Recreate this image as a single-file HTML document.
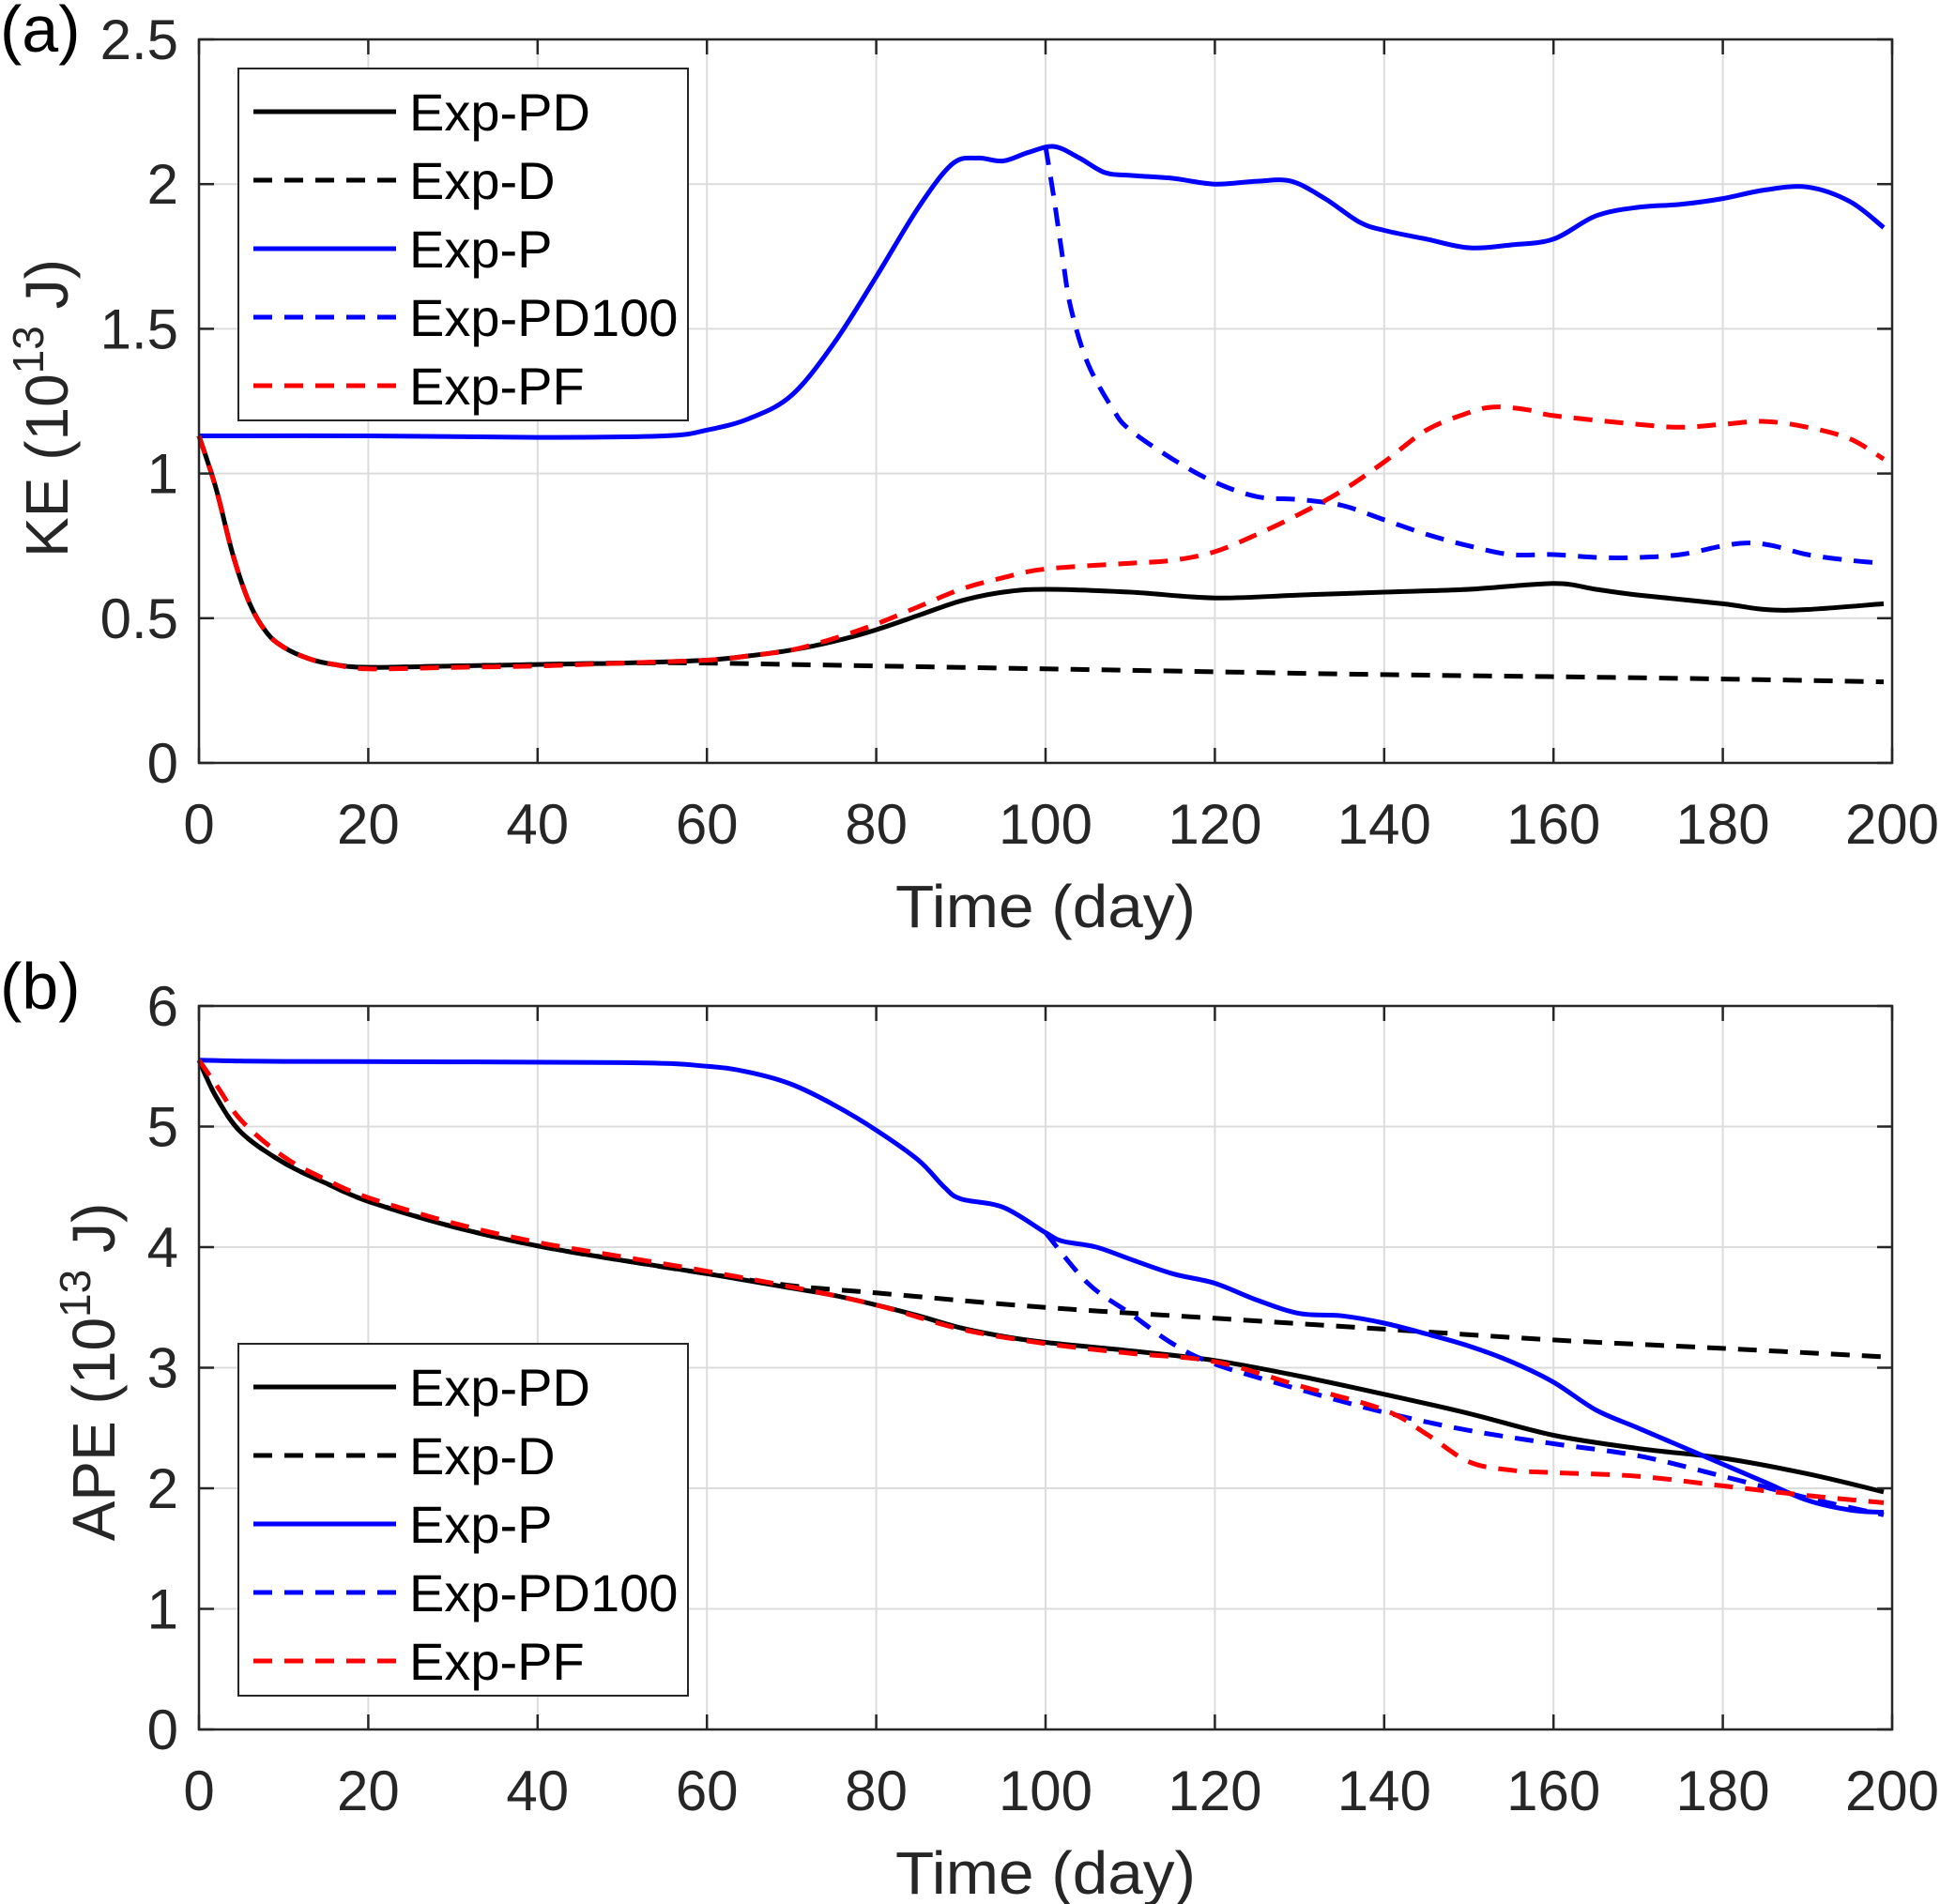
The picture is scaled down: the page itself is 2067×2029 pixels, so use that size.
<!DOCTYPE html>
<html><head><meta charset="utf-8"><style>
html,body{margin:0;padding:0;background:#fff;}
svg{display:block;font-family:"Liberation Sans",sans-serif;}
</style></head><body>
<svg id="chart" width="2067" height="2029" viewBox="0 0 2067 2029" xmlns="http://www.w3.org/2000/svg"></svg>
<script>
const xTicks=[0,20,40,60,80,100,120,140,160,180,200];
const keTicks=[0,0.5,1,1.5,2,2.5];
const keTickLabels=["0","0.5","1","1.5","2","2.5"];
const apeTicks=[0,1,2,3,4,5,6];
const apeTickLabels=["0","1","2","3","4","5","6"];
const seriesNames=["Exp-PD","Exp-D","Exp-P","Exp-PD100","Exp-PF"];
// Panel (a) KE
const keP_t=[0,20,40,55,60,65,70,75,80,85,89,92,95,98,101,104,107,110,115,120,125,129,133,137,140,145,150,155,160,165,170,175,180,185,190,195,199];
const keP_v=[1.13,1.13,1.125,1.13,1.15,1.19,1.27,1.45,1.68,1.92,2.07,2.09,2.08,2.11,2.13,2.09,2.04,2.03,2.02,2.0,2.01,2.01,1.95,1.87,1.84,1.81,1.78,1.79,1.81,1.89,1.92,1.93,1.95,1.98,1.99,1.94,1.85];
const kePD_t=[0,2,4,6,8,10,13,16,20,30,40,50,60,65,70,75,80,85,90,95,100,110,120,130,140,150,160,165,170,180,185,190,199];
const kePD_v=[1.13,0.95,0.72,0.55,0.45,0.40,0.36,0.34,0.33,0.335,0.34,0.345,0.355,0.37,0.39,0.42,0.46,0.51,0.56,0.59,0.60,0.59,0.57,0.58,0.59,0.60,0.62,0.60,0.58,0.55,0.53,0.53,0.55];
const keD_t=[0,2,4,6,8,10,13,16,20,30,40,50,60,80,100,120,140,160,180,199];
const keD_v=[1.13,0.95,0.72,0.55,0.45,0.40,0.36,0.34,0.33,0.335,0.34,0.345,0.345,0.335,0.325,0.315,0.305,0.298,0.29,0.28];
const kePF_t=[0,2,4,6,8,10,13,16,20,30,40,50,60,65,70,75,80,85,90,95,100,110,115,120,125,130,135,140,145,150,153,157,160,170,175,180,185,190,195,199];
const kePF_v=[1.13,0.95,0.72,0.55,0.45,0.40,0.36,0.34,0.325,0.33,0.335,0.345,0.355,0.37,0.39,0.43,0.48,0.54,0.60,0.64,0.67,0.69,0.70,0.73,0.79,0.86,0.94,1.04,1.15,1.21,1.23,1.22,1.20,1.17,1.16,1.17,1.18,1.16,1.12,1.05];
const kePD100_t=[100,101,102,103,105,108,110,115,120,125,130,135,140,145,150,155,160,165,170,175,180,183,186,190,195,199];
const kePD100_v=[2.13,1.95,1.75,1.57,1.38,1.22,1.15,1.05,0.97,0.92,0.91,0.89,0.84,0.79,0.75,0.72,0.72,0.71,0.71,0.72,0.75,0.76,0.75,0.72,0.70,0.69];
// Panel (b) APE
const apeP_t=[0,10,50,60,65,70,75,80,85,88,90,95,100,102,106,110,115,120,125,130,135,140,145,150,155,160,165,170,175,180,185,190,195,199];
const apeP_v=[5.55,5.54,5.53,5.50,5.45,5.35,5.18,4.97,4.72,4.50,4.40,4.33,4.12,4.05,4.0,3.90,3.78,3.70,3.56,3.45,3.43,3.37,3.28,3.18,3.05,2.88,2.65,2.50,2.35,2.20,2.05,1.90,1.82,1.80];
const apePD_t=[0,2,5,10,15,20,30,40,50,60,70,75,80,85,90,95,100,110,120,130,140,150,160,170,180,190,199];
const apePD_v=[5.55,5.25,4.95,4.70,4.53,4.38,4.17,4.01,3.89,3.78,3.66,3.60,3.52,3.43,3.33,3.26,3.21,3.14,3.06,2.93,2.78,2.62,2.44,2.33,2.25,2.12,1.97];
const apeD_t=[0,2,5,10,15,20,30,40,50,60,70,80,100,120,140,160,180,199];
const apeD_v=[5.55,5.25,4.95,4.70,4.53,4.38,4.17,4.01,3.89,3.78,3.68,3.62,3.50,3.41,3.32,3.23,3.16,3.09];
const apePF_t=[0,2,5,10,15,20,30,40,50,60,70,80,90,100,110,120,130,140,145,150,155,160,170,180,190,199];
const apePF_v=[5.55,5.35,5.05,4.75,4.56,4.41,4.20,4.04,3.92,3.80,3.67,3.52,3.32,3.20,3.12,3.05,2.85,2.65,2.45,2.22,2.15,2.13,2.10,2.02,1.94,1.88];
const apePD100_t=[100,105,110,115,120,130,140,150,160,170,180,190,199];
const apePD100_v=[4.12,3.70,3.45,3.20,3.03,2.82,2.63,2.48,2.37,2.27,2.10,1.92,1.78];

const NS="http://www.w3.org/2000/svg";
const svg=document.getElementById('chart');
function mk(tag,attrs,parent){const e=document.createElementNS(NS,tag);for(const k in attrs)e.setAttribute(k,attrs[k]);(parent||svg).appendChild(e);return e;}
const X0=212,X1=2016;
function xs(d){return X0+(d/200)*(X1-X0);}
function smoothPath(pts){
  let d="M"+pts[0][0].toFixed(1)+","+pts[0][1].toFixed(1);
  for(let i=0;i<pts.length-1;i++){
    const p0=pts[i-1]||pts[i],p1=pts[i],p2=pts[i+1],p3=pts[i+2]||p2;
    const c1x=p1[0]+(p2[0]-p0[0])/6,c1y=p1[1]+(p2[1]-p0[1])/6;
    const c2x=p2[0]-(p3[0]-p1[0])/6,c2y=p2[1]-(p3[1]-p1[1])/6;
    d+=" C"+c1x.toFixed(1)+","+c1y.toFixed(1)+" "+c2x.toFixed(1)+","+c2y.toFixed(1)+" "+p2[0].toFixed(1)+","+p2[1].toFixed(1);
  }
  return d;
}
const styles={"Exp-PD":["#000",""],"Exp-D":["#000","20 13"],"Exp-P":["#0000ff",""],"Exp-PD100":["#0000ff","20 13"],"Exp-PF":["#ff0000","20 13"]};

function panel(cfg){
  const {top,bottom,ymax,ticks,tickLabels,series,legendTop,ylabel,ylx,yly,panelLabel,plY,key}=cfg;
  const ys=v=>bottom-(v/ymax)*(bottom-top);
  const g=mk('g',{});
  
  
  xTicks.forEach(t=>{const l=mk('line',{x1:xs(t),x2:xs(t),y1:top,y2:bottom,stroke:'#dcdcdc','stroke-width':2},g);
    });
  ticks.forEach(t=>{const l=mk('line',{x1:X0,x2:X1,y1:ys(t),y2:ys(t),stroke:'#dcdcdc','stroke-width':2},g);
    });
  series.forEach(s=>{
    const pts=s.t.map((d,i)=>[xs(d),ys(s.v[i])]);
    const p=mk('path',{d:smoothPath(pts),fill:'none',stroke:styles[s.name][0],'stroke-width':5,'stroke-dasharray':styles[s.name][1],'stroke-linejoin':'round'},g);
    
    
  });
  const b=mk('rect',{x:X0,y:top,width:X1-X0,height:bottom-top,fill:'none',stroke:'#262626','stroke-width':2.5},g);
  
  xTicks.forEach((t,i)=>{
    mk('line',{x1:xs(t),x2:xs(t),y1:bottom,y2:bottom-16,stroke:'#262626','stroke-width':2.5},g);
    mk('line',{x1:xs(t),x2:xs(t),y1:top,y2:top+16,stroke:'#262626','stroke-width':2.5},g);
    const tx=mk('text',{x:xs(t),y:bottom+86,'text-anchor':'middle','font-size':60,fill:'#262626'},g);
    tx.textContent=String(t);
    
  });
  ticks.forEach((t,i)=>{
    mk('line',{x1:X0,x2:X0+16,y1:ys(t),y2:ys(t),stroke:'#262626','stroke-width':2.5},g);
    mk('line',{x1:X1,x2:X1-16,y1:ys(t),y2:ys(t),stroke:'#262626','stroke-width':2.5},g);
    const tx=mk('text',{x:190,y:ys(t)+21,'text-anchor':'end','font-size':60,fill:'#262626'},g);
    tx.textContent=tickLabels[i];
    
  });
  const xt=mk('text',{x:(X0+X1)/2,y:bottom+175,'text-anchor':'middle','font-size':64,fill:'#262626',textLength:320,lengthAdjust:'spacingAndGlyphs'},g);
  xt.textContent='Time (day)';
  
  const yt=mk('text',{x:ylx,y:yly,'text-anchor':'middle','font-size':64,fill:'#262626',transform:`rotate(-90 ${ylx} ${yly})`},g);
  yt.innerHTML=ylabel+' (10<tspan dy="-26" font-size="46">13</tspan><tspan dy="26"> J)</tspan>';
  
  const pl=mk('text',{x:0,y:plY,'font-size':70,fill:'#000'},g);
  pl.textContent=panelLabel;
  
  const lg=mk('g',{},g);
  
  mk('rect',{x:254,y:legendTop,width:479,height:375,fill:'#fff',stroke:'#262626','stroke-width':2},lg);
  seriesNames.forEach((n,i)=>{
    const y=legendTop+46+i*73;
    const l=mk('line',{x1:270,x2:422,y1:y,y2:y,stroke:styles[n][0],'stroke-width':5,'stroke-dasharray':styles[n][1]},lg);
    
    const tx=mk('text',{x:436,y:y+20,'font-size':56,fill:'#000'},lg);
    tx.textContent=n;
    
  });
}
panel({key:'ke',top:42,bottom:813,ymax:2.5,ticks:keTicks,tickLabels:keTickLabels,legendTop:73,ylabel:'KE',ylx:72,yly:435,panelLabel:'(a)',plY:55,
  series:[{name:'Exp-D',t:keD_t,v:keD_v},{name:'Exp-PD',t:kePD_t,v:kePD_v},{name:'Exp-P',t:keP_t,v:keP_v},{name:'Exp-PD100',t:kePD100_t,v:kePD100_v},{name:'Exp-PF',t:kePF_t,v:kePF_v}]});
panel({key:'ape',top:1072,bottom:1843,ymax:6,ticks:apeTicks,tickLabels:apeTickLabels,legendTop:1432,ylabel:'APE',ylx:122,yly:1462,panelLabel:'(b)',plY:1075,
  series:[{name:'Exp-D',t:apeD_t,v:apeD_v},{name:'Exp-PD',t:apePD_t,v:apePD_v},{name:'Exp-P',t:apeP_t,v:apeP_v},{name:'Exp-PD100',t:apePD100_t,v:apePD100_v},{name:'Exp-PF',t:apePF_t,v:apePF_v}]});
</script>
</body></html>
